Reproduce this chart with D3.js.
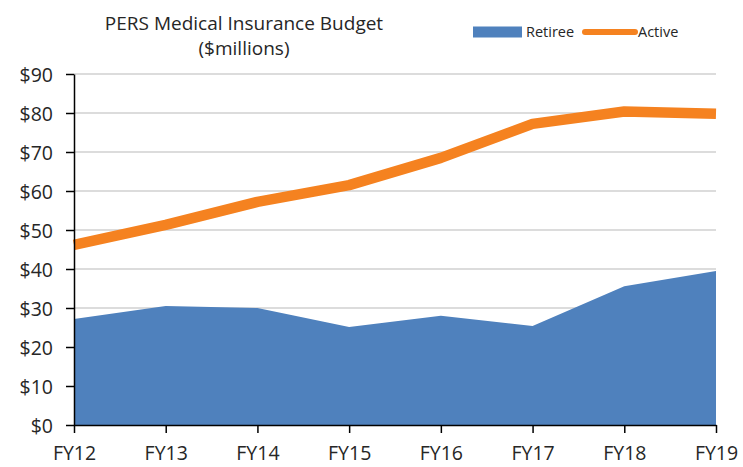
<!DOCTYPE html>
<html>
<head>
<meta charset="utf-8">
<script src="https://cdn.jsdelivr.net/npm/d3@7"></script>
<style>
  body { margin: 0; background: #fff; }
  text { font-family: "Open Sans", "Noto Sans", sans-serif; fill: #262626; }
</style>
</head>
<body>
<div id="chart"></div>
<script>
// Chart data
const years = ["FY12", "FY13", "FY14", "FY15", "FY16", "FY17", "FY18", "FY19"];
const retiree = [27.2, 30.5, 30.0, 25.1, 28.0, 25.4, 35.6, 39.5];
const active = [46.2, 51.3, 57.2, 61.5, 68.5, 77.2, 80.4, 79.8];
const yTicks = [0, 10, 20, 30, 40, 50, 60, 70, 80, 90];

const W = 743, H = 467;
const margin = { top: 74, right: 27, bottom: 42, left: 74 };
const width = W - margin.left - margin.right;
const height = H - margin.top - margin.bottom;

const svg = d3.select("#chart").append("svg")
  .attr("width", W).attr("height", H);

const g = svg.append("g")
  .attr("transform", `translate(${margin.left},${margin.top})`);

const x = d3.scalePoint().domain(years).range([0, width]);
const y = d3.scaleLinear().domain([0, 90]).range([height, 0]);

// gridlines
g.append("g").selectAll("line").data(yTicks.slice(1)).join("line")
  .attr("x1", 0).attr("x2", width)
  .attr("y1", d => y(d)).attr("y2", d => y(d))
  .attr("stroke", "#d0d0d0").attr("stroke-width", 1.5);

// retiree area
const area = d3.area()
  .x((d, i) => x(years[i]))
  .y0(y(0))
  .y1(d => y(d));
g.append("path").datum(retiree)
  .attr("d", area)
  .attr("fill", "#4f81bd");

// active line
const line = d3.line()
  .x((d, i) => x(years[i]))
  .y(d => y(d));
g.append("path").datum(active)
  .attr("d", line)
  .attr("fill", "none")
  .attr("stroke", "#f58220")
  .attr("stroke-width", 10.5)
  .attr("stroke-linejoin", "round");

// axes
const yAxis = g.append("g")
  .call(d3.axisLeft(y).tickValues(yTicks).tickSize(8).tickSizeOuter(0)
    .tickFormat(d => "$" + d));
const xAxis = g.append("g")
  .attr("transform", `translate(0,${height})`)
  .call(d3.axisBottom(x).tickSize(8).tickSizeOuter(0));

[yAxis, xAxis].forEach(a => {
  a.select(".domain").attr("stroke", "#000").attr("stroke-width", 1.5);
  a.selectAll(".tick line").attr("stroke", "#000").attr("stroke-width", 1.5);
  a.selectAll("text").style("font-size", "19.5px").attr("fill", "#262626");
});
yAxis.selectAll("text").attr("x", -21).attr("dy", "0.36em");
xAxis.selectAll("text").attr("dy", 0).attr("y", 35);

// title
const title = svg.append("text")
  .attr("x", 244).attr("y", 30)
  .attr("text-anchor", "middle")
  .style("font-size", "19px");
title.append("tspan").attr("x", 244).text("PERS Medical Insurance Budget");
title.append("tspan").attr("x", 244).attr("dy", 25).text("($millions)");

// legend
const legend = svg.append("g").attr("transform", "translate(473,32)");
legend.append("rect")
  .attr("x", 0).attr("y", -5.5).attr("width", 49).attr("height", 11)
  .attr("fill", "#4f81bd");
legend.append("text").attr("x", 53).attr("y", 0).attr("dy", "0.35em")
  .style("font-size", "14.5px").text("Retiree");
legend.append("line")
  .attr("x1", 112).attr("x2", 162).attr("y1", 0).attr("y2", 0)
  .attr("stroke", "#f58220").attr("stroke-width", 6)
  .attr("stroke-linecap", "round");
legend.append("text").attr("x", 165).attr("y", 0).attr("dy", "0.35em")
  .style("font-size", "14.5px").text("Active");
</script>
</body>
</html>
